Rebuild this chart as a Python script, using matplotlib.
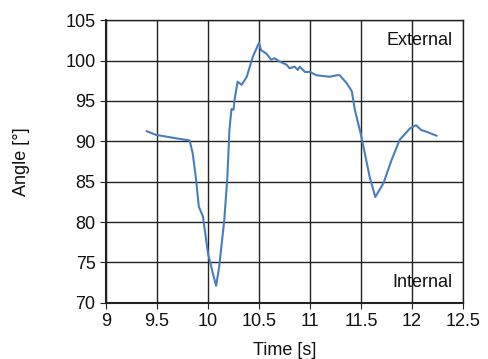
import matplotlib
matplotlib.use('Agg')
from matplotlib import pyplot as plt

plt.rcParams['font.family'] = 'Liberation Sans'

# knee angle trace
time = [9.40, 9.49, 9.65, 9.79, 9.82, 9.85, 9.88, 9.91, 9.95, 10.00, 10.05, 10.08,
        10.11, 10.16, 10.19, 10.21, 10.23, 10.25, 10.26, 10.29, 10.33, 10.38,
        10.44, 10.50, 10.52, 10.57, 10.62, 10.65, 10.70, 10.77, 10.80, 10.85,
        10.88, 10.90, 10.95, 11.00, 11.06, 11.19, 11.27, 11.29, 11.36, 11.41,
        11.44, 11.50, 11.585, 11.64, 11.72, 11.80, 11.88, 11.98, 12.04, 12.09,
        12.14, 12.24]
angle = [91.25, 90.8, 90.45, 90.17, 90.1, 88.5, 85.6, 81.9, 80.7, 76.1, 73.5, 72.1,
         74.5, 80.3, 85.6, 91.4, 94.0, 93.9, 95.1, 97.4, 97.0, 98.0,
         100.5, 102.2, 101.3, 100.9, 100.1, 100.3, 99.9, 99.5, 99.05, 99.25,
         98.85, 99.25, 98.6, 98.6, 98.2, 98.0, 98.2, 98.2, 97.2, 96.2,
         93.9, 90.8, 85.6, 83.1, 84.8, 87.7, 90.2, 91.6, 92.0, 91.4,
         91.2, 90.7]

xticks = [9, 9.5, 10, 10.5, 11, 11.5, 12, 12.5]
yticks = [70, 75, 80, 85, 90, 95, 100, 105]

fig = plt.figure(figsize=(4.89, 3.59), dpi=100)
ax = fig.add_axes([0.2168, 0.1568, 0.73, 0.7867])

ax.plot(time, angle, color='#4a7ebb', linewidth=1.5)

ax.set_xlim(9, 12.5)
ax.set_ylim(70, 105)
ax.set_xticks(xticks)
ax.set_xticklabels(['9', '9.5', '10', '10.5', '11', '11.5', '12', '12.5'])
ax.set_yticks(yticks)
ax.grid(True, color='#222222', linewidth=1.0)
ax.set_axisbelow(True)
for s in ax.spines.values():
    s.set_color('#222222')
    s.set_linewidth(1.0)
ax.spines['left'].set_linewidth(1.5)
ax.spines['bottom'].set_linewidth(1.5)
ax.tick_params(labelsize=13, length=4, direction='out', color='#222222',
               labelcolor='#111111')

ax.text(0.972, 0.93, 'External', transform=ax.transAxes, ha='right', va='center',
        fontsize=13, color='#111111')
ax.text(0.972, 0.07, 'Internal', transform=ax.transAxes, ha='right', va='center',
        fontsize=13, color='#111111')

ax.set_xlabel('Time [s]', fontsize=13, color='#111111')
ax.set_ylabel('Angle [°]', fontsize=13, color='#111111')
ax.xaxis.set_label_coords(0.5, -0.168)
ax.yaxis.set_label_coords(-0.238, 0.5)
ax.xaxis.label.set_va('center')
ax.yaxis.label.set_va('center')

fig.savefig('out.png', dpi=100)
